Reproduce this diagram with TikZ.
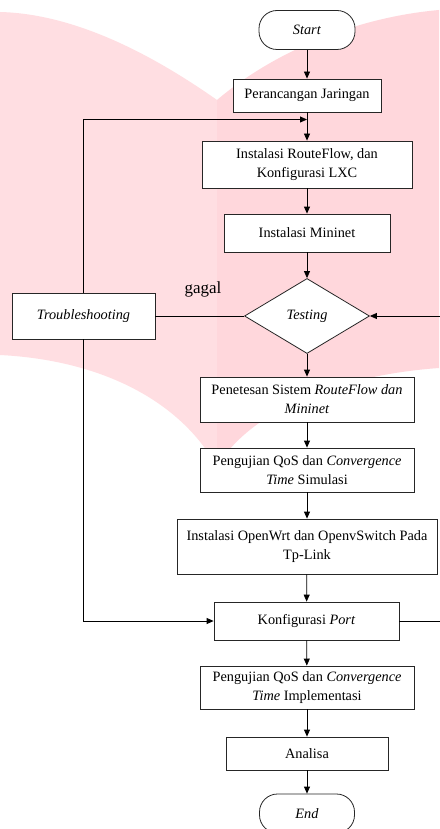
\documentclass[tikz,border=0pt]{standalone}
\usepackage{fontspec}
\setmainfont{Liberation Serif}
\usetikzlibrary{shapes.geometric,arrows.meta}
\definecolor{wmL}{RGB}{255,222,226}
\definecolor{wmR}{RGB}{255,215,220}
\begin{document}
\begin{tikzpicture}[x=1pt,y=-1pt,
 box/.style={draw=black!85,line width=0.8pt,fill=white,align=center,inner sep=0pt,font=\fontsize{14.3}{19}\selectfont},
 term/.style={box,rounded corners=18pt},
 dec/.style={box,diamond,aspect=1.67},
 arr/.style={line width=0.8pt,-{Triangle[length=7pt,width=6pt]}},
 ln/.style={line width=0.8pt}]
\useasboundingbox (0,0) rectangle (439,829);
\fill[white] (0,0) rectangle (439,829);
\fill[wmL] (0,12) .. controls (80,14) and (160,60) .. (217,100) -- (217,467) .. controls (180,400) and (100,360) .. (0,355) -- cycle;
\fill[wmR] (217,100) .. controls (270,55) and (350,18) .. (439,10) -- (439,368) .. controls (340,375) and (250,410) .. (217,467) -- cycle;

\node[term,minimum width=96pt,minimum height=39pt] (start) at (307,30) {\textit{Start}};
\node[box,minimum width=148pt,minimum height=33pt] (p1) at (307,95.5) {Perancangan Jaringan};
\node[box,minimum width=210pt,minimum height=47pt] (p2) at (307,164.5) {Instalasi RouteFlow, dan\\Konfigurasi LXC};
\node[box,minimum width=166pt,minimum height=38pt] (p3) at (307,233) {Instalasi Mininet};
\node[dec,minimum width=125pt,minimum height=75pt] (test) at (307,316) {\textit{Testing}};
\node[box,minimum width=143pt,minimum height=46pt] (trouble) at (83.5,316) {\textit{Troubleshooting}};
\node[font=\fontsize{17}{20}\selectfont,inner sep=0pt] (gagal) at (203,289) {gagal};
\node[box,minimum width=214pt,minimum height=45pt] (p4) at (307,399.5) {Penetesan Sistem \textit{RouteFlow dan}\\\textit{Mininet}};
\node[box,minimum width=214pt,minimum height=44pt] (p5) at (307,470) {Pengujian QoS dan \textit{Convergence}\\\textit{Time} Simulasi};
\node[box,minimum width=260pt,minimum height=55pt] (p6) at (307,546.5) {Instalasi OpenWrt dan OpenvSwitch Pada\\Tp-Link};
\node[box,minimum width=185pt,minimum height=38pt] (p7) at (306.5,621) {Konfigurasi \textit{Port}};
\node[box,minimum width=214pt,minimum height=43pt] (p8) at (307,687.5) {Pengujian QoS dan \textit{Convergence}\\\textit{Time} Implementasi};
\node[box,minimum width=162pt,minimum height=33pt] (p9) at (307,753.5) {Analisa};
\node[term,minimum width=95pt,minimum height=39pt] (end) at (307,813.5) {\textit{End}};

\coordinate (j1) at (307,119.5);
\coordinate (rx) at (442,621);

\draw[arr] (start) -- (p1);
\draw[arr] (p1) -- (p2);
\draw[arr] (p2) -- (p3);
\draw[arr] (p3) -- (test);
\draw[arr] (test) -- (p4);
\draw[arr] (p4) -- (p5);
\draw[arr] (p5) -- (p6);
\draw[arr] (p6) -- (p7);
\draw[arr] (p7) -- (p8);
\draw[arr] (p8) -- (p9);
\draw[arr] (p9) -- (end);
\draw[ln] (trouble.east) -- (test.west);
\draw[arr] (trouble.north) |- (j1);
\draw[arr] (trouble.south) |- (p7.west);
\draw[arr] (p7.east) -- (rx) |- (test.east);
\end{tikzpicture}
\end{document}
